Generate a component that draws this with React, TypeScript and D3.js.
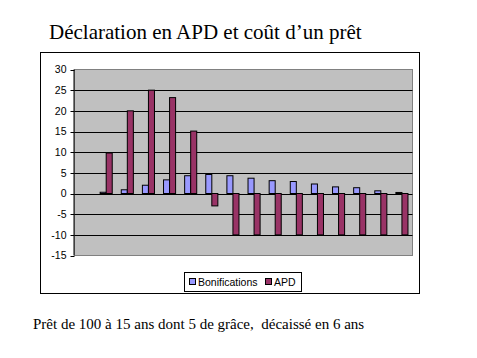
import React from "react";
import * as d3 from "d3";

const categories = ["0","1","2","3","4","5","6","7","8","9","10","11","12","13","14","15"];
const bonifications = [0, 0.3, 0.9, 2.0, 3.3, 4.3, 4.6, 4.3, 3.7, 3.1, 2.9, 2.3, 1.6, 1.4, 0.65, 0.25];
const apd = [0, 9.8, 20, 25, 23.2, 15.1, -3, -10, -10, -10, -10, -10, -10, -10, -10, -10];
const yTicks = [30, 25, 20, 15, 10, 5, 0, -5, -10, -15];
const seriesNames = ["Bonifications", "APD"];
const colors = ["#9999FF", "#993366"];

export default function App() {
  const W = 477, H = 358;
  const plot = { l: 74.5, t: 69.5, r: 412.5, b: 255.5 };
  const x = d3.scaleBand<string>().domain(categories).range([plot.l, plot.r]);
  const y = d3.scaleLinear().domain([-15, 30]).range([plot.b, plot.t]);
  const bw = x.bandwidth() / 3.5;
  const series = [bonifications, apd];
  return (
    <svg width={W} height={H} style={{ position: "absolute", left: 0, top: 0 }}>
      <rect x={0} y={0} width={W} height={H} fill="#fff" />
      <text x={49} y={39} fontFamily="Liberation Serif, Times New Roman, serif" fontSize={21} fill="#000">
        Déclaration en APD et coût d’un prêt
      </text>
      <rect x={40.5} y={52.5} width={379} height={241} fill="#fff" stroke="#000" strokeWidth={1} />
      <rect x={plot.l} y={plot.t} width={plot.r - plot.l} height={plot.b - plot.t} fill="#C0C0C0" stroke="#808080" strokeWidth={1} />
      {yTicks.filter(t => t !== 30 && t !== -15).map(t => (
        <line key={"g" + t} x1={plot.l} x2={plot.r} y1={Math.round(y(t)) + 0.5} y2={Math.round(y(t)) + 0.5} stroke="#000" strokeWidth={1} />
      ))}
      {series.map((vals, si) =>
        vals.map((v, i) => {
          const x0 = (x(categories[i]) as number) + x.bandwidth() / 2 - bw + si * bw;
          const y0 = y(Math.max(0, v));
          const h = Math.abs(y(v) - y(0));
          if (v === 0) return null;
          return (
            <rect key={si + "-" + i} x={x0} y={y0} width={bw} height={Math.max(h, 0.5)} fill={colors[si]} stroke="#000" strokeWidth={1} />
          );
        })
      )}
      <line x1={plot.l - 0.5} x2={plot.l - 0.5} y1={plot.t} y2={plot.b} stroke="#000" />
      {yTicks.map(t => (
        <g key={"t" + t}>
          <line x1={plot.l - 4} x2={plot.l} y1={Math.round(y(t)) + 0.5} y2={Math.round(y(t)) + 0.5} stroke="#000" />
          <text x={plot.l - 8} y={y(t)} dy="0.35em" textAnchor="end" fontFamily="Liberation Sans, Arial, sans-serif" fontSize={10.5} fill="#000">
            {t}
          </text>
        </g>
      ))}
      <rect x={184.5} y={272.5} width={117} height={19} fill="#fff" stroke="#000" />
      <rect x={189.5} y={278.5} width={6} height={6} fill={colors[0]} stroke="#000" />
      <text x={198} y={286} fontFamily="Liberation Sans, Arial, sans-serif" fontSize={10.5} fill="#000">{seriesNames[0]}</text>
      <rect x={265.5} y={278.5} width={6} height={6} fill={colors[1]} stroke="#000" />
      <text x={274} y={286} fontFamily="Liberation Sans, Arial, sans-serif" fontSize={10.5} fill="#000">{seriesNames[1]}</text>
      <text x={33} y={329} fontFamily="Liberation Serif, Times New Roman, serif" fontSize={15} fill="#000" xmlSpace="preserve">
        Prêt de 100 à 15 ans dont 5 de grâce,  décaissé en 6 ans
      </text>
    </svg>
  );
}
